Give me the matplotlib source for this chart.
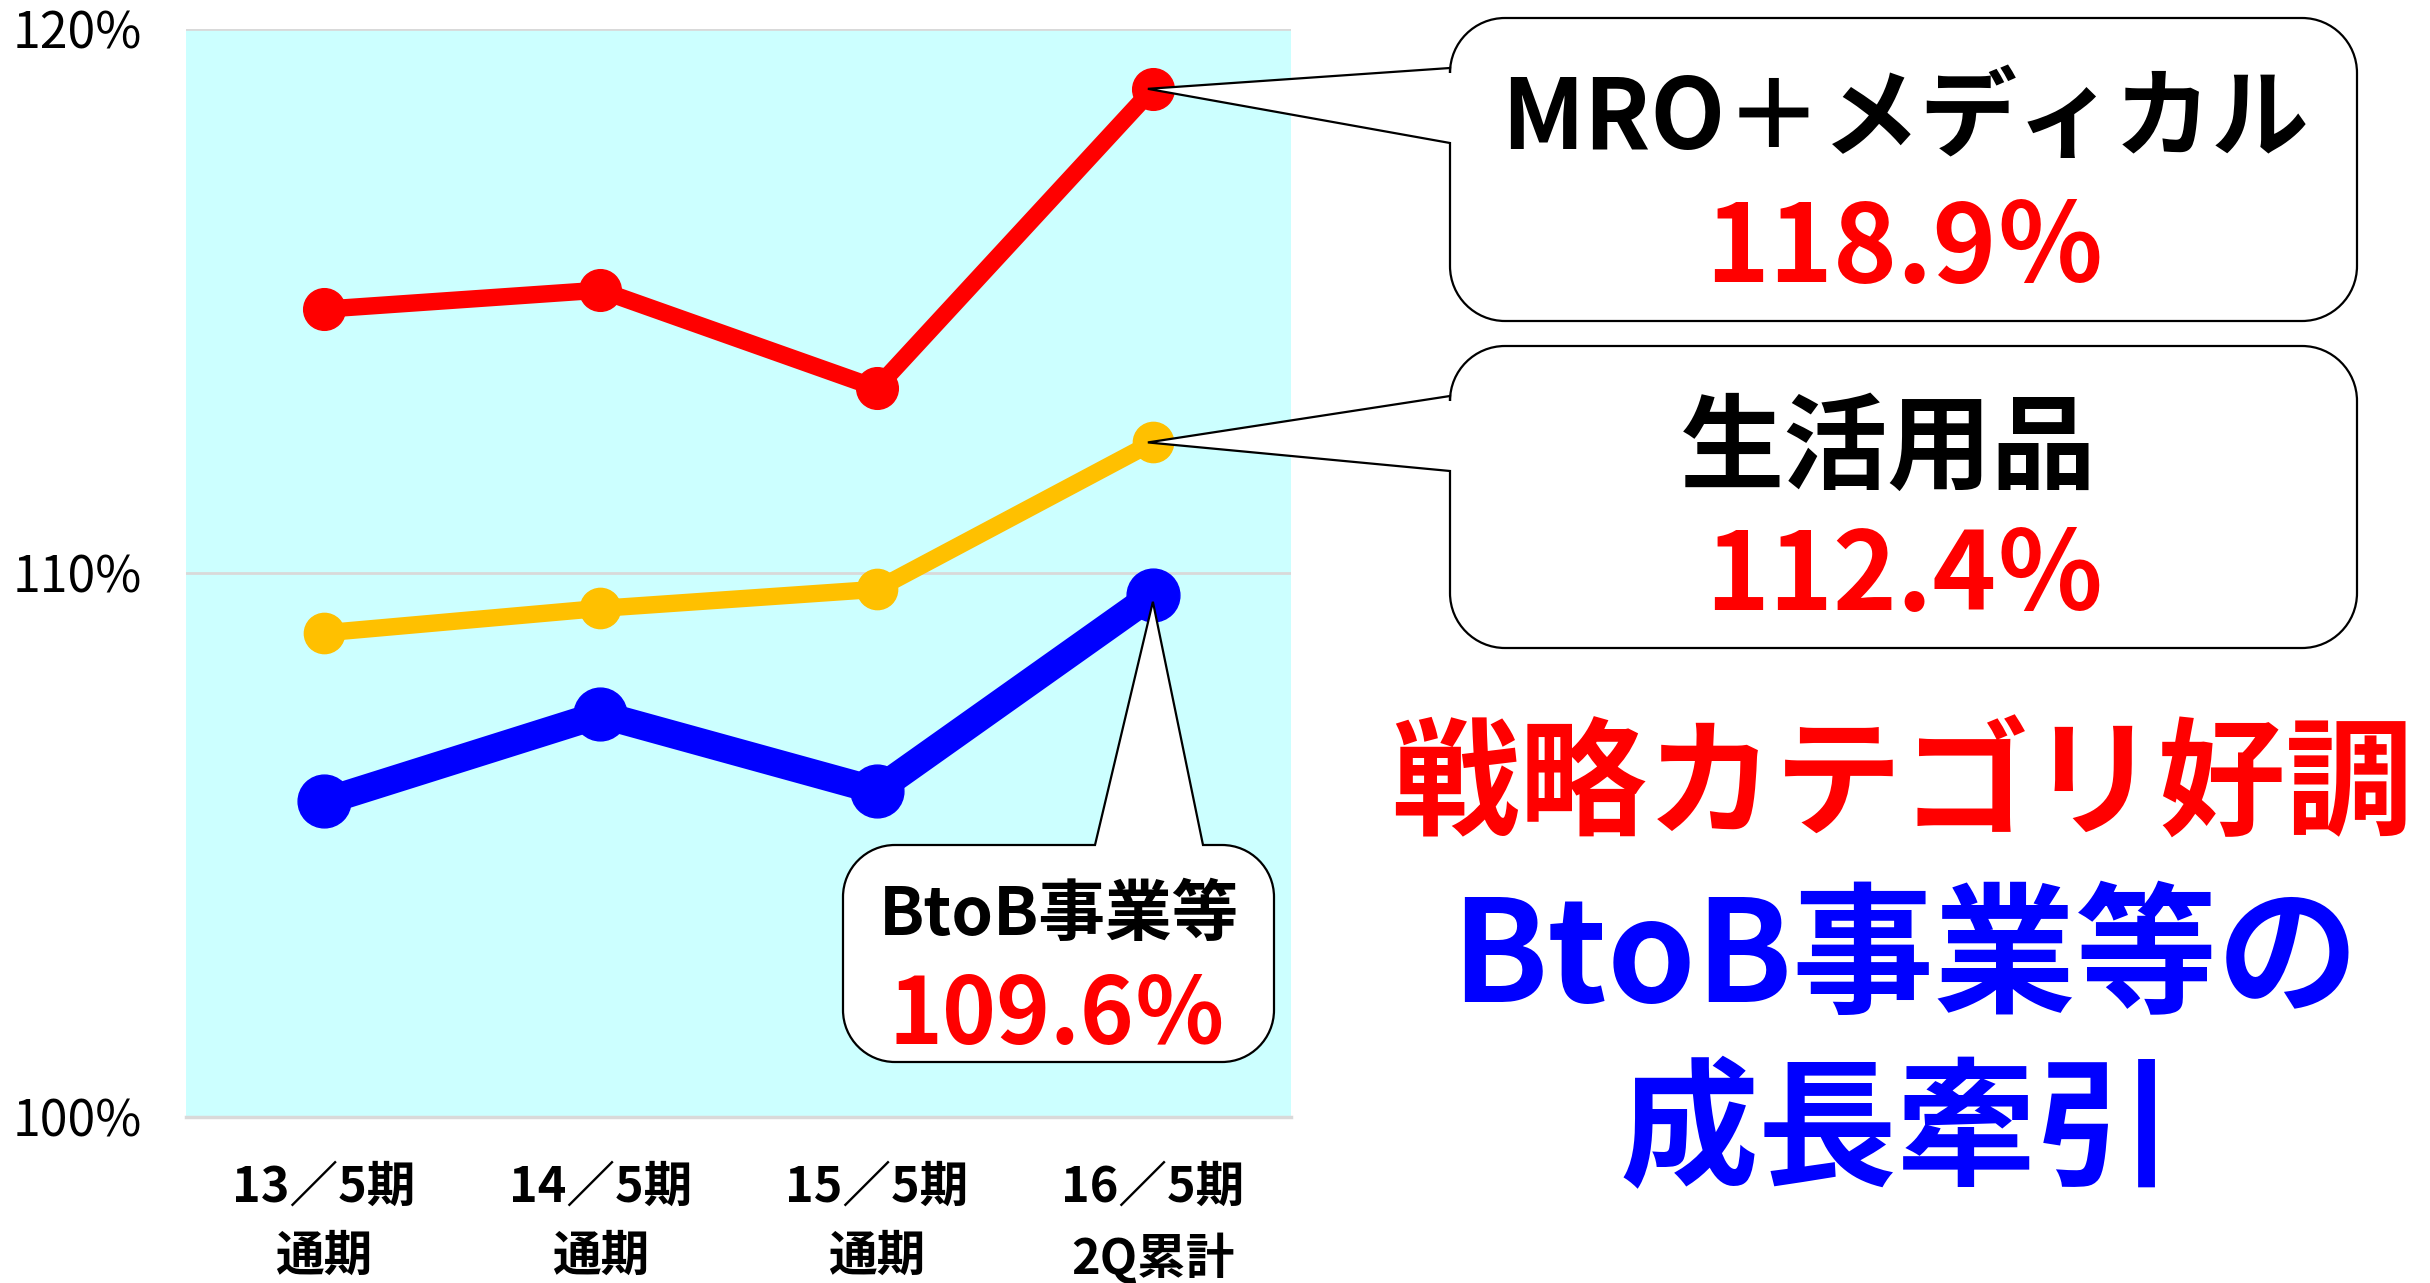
import matplotlib
matplotlib.use("Agg")
import matplotlib.pyplot as plt
from matplotlib.path import Path
from matplotlib.patches import PathPatch

plt.rcParams['font.family'] = ['Noto Sans CJK JP', 'DejaVu Sans']

# data
periods = ['13／5期\n通期', '14／5期\n通期', '15／5期\n通期', '16／5期\n2Q累計']
mro_medical = [114.85, 115.2, 113.4, 118.9]
living_goods = [108.9, 109.35, 109.7, 112.4]
btob = [105.8, 107.4, 106.0, 109.6]
yticks = [100, 110, 120]
ytick_labels = ['100%', '110%', '120%']

W, H = 2430, 1283
fig = plt.figure(figsize=(W / 100, H / 100), dpi=100)
fig.patch.set_facecolor('white')

ax = fig.add_axes([186 / W, 1 - 1117 / H, (1291 - 186) / W, (1117 - 29) / H])
ax.set_facecolor('#CCFFFF')
x = range(len(periods))

ax.plot(x, mro_medical, color='#FF0000', lw=12.5, marker='o', ms=30, zorder=3)
ax.plot(x, living_goods, color='#FFC000', lw=12.5, marker='o', ms=29, zorder=3)
ax.plot(x, btob, color='#0000FF', lw=20, marker='o', ms=38, zorder=3)

ax.set_xlim(-0.5, len(periods) - 0.5)
ax.set_ylim(100, 120)
ax.set_yticks(yticks)
ax.set_yticklabels(ytick_labels, fontsize=36)
ax.set_xticks(list(x))
ax.set_xticklabels(periods, fontsize=35, fontweight='bold', linespacing=1.5)
ax.tick_params(axis='both', length=0)
ax.tick_params(axis='y', pad=32)
ax.tick_params(axis='x', pad=33)
ax.grid(axis='y', color='#D9D9D9', lw=2, zorder=1)
for s in ['top', 'left', 'right']:
    ax.spines[s].set_visible(False)
ax.spines['bottom'].set_color('#D9D9D9')
ax.spines['bottom'].set_linewidth(2.5)

# overlay in pixel coordinates (y down) for the callouts and the big text
ov = fig.add_axes([0, 0, 1, 1], zorder=5)
ov.set_xlim(0, W)
ov.set_ylim(H, 0)
ov.axis('off')
ov.patch.set_alpha(0)


def to_px(xv, yv):
    disp = ax.transData.transform((xv, yv))
    return ov.transData.inverted().transform(disp)


def bubble(x0, y0, x1, y1, r, tip, side, b0, b1):
    k = 0.5523 * r
    v = [(x0 + r, y0)]
    c = [Path.MOVETO]
    if side == 'top':
        v += [(b0, y0), tuple(tip), (b1, y0)]
        c += [Path.LINETO] * 3
    v += [(x1 - r, y0), (x1 - r + k, y0), (x1, y0 + r - k), (x1, y0 + r)]
    c += [Path.LINETO, Path.CURVE4, Path.CURVE4, Path.CURVE4]
    v += [(x1, y1 - r), (x1, y1 - r + k), (x1 - r + k, y1), (x1 - r, y1)]
    c += [Path.LINETO, Path.CURVE4, Path.CURVE4, Path.CURVE4]
    v += [(x0 + r, y1), (x0 + r - k, y1), (x0, y1 - r + k), (x0, y1 - r)]
    c += [Path.LINETO, Path.CURVE4, Path.CURVE4, Path.CURVE4]
    if side == 'left':
        v += [(x0, b1), tuple(tip), (x0, b0)]
        c += [Path.LINETO] * 3
    v += [(x0, y0 + r), (x0, y0 + r - k), (x0 + r - k, y0), (x0 + r, y0)]
    c += [Path.LINETO, Path.CURVE4, Path.CURVE4, Path.CURVE4]
    v.append((x0 + r, y0))
    c.append(Path.CLOSEPOLY)
    ov.add_patch(PathPatch(Path(v, c), facecolor='white', edgecolor='black',
                           lw=1.6, joinstyle='miter'))


def label(xc, yc, s, size, color='black', weight='bold'):
    em = size * 100 / 72
    ov.text(xc, yc + 0.37 * em, s, fontsize=size, color=color, fontweight=weight,
            ha='center', va='baseline')


last = len(periods) - 1
tip_r = to_px(last, mro_medical[-1])
tip_y = to_px(last, living_goods[-1])
tip_b = to_px(last, btob[-1])

bubble(1450, 18, 2357, 321, 55, (tip_r[0] - 5, tip_r[1]), 'left', 68, 143)
bubble(1450, 346, 2357, 648, 55, (tip_y[0] - 5, tip_y[1]), 'left', 396, 471)
bubble(843, 845, 1274, 1062, 52, (tip_b[0], tip_b[1] + 7), 'top', 1095, 1203)

label(1905, 113, 'MRO＋メディカル', 70)
label(1905, 242, f'{mro_medical[-1]:.1f}％', 78, color='#FF0000')
label(1888, 442, '生活用品', 75)
label(1905, 570, f'{living_goods[-1]:.1f}％', 78, color='#FF0000')
label(1059, 910, 'BtoB事業等', 48)
label(1057, 1010, f'{btob[-1]:.1f}％', 66, color='#FF0000')

label(1902, 778, '戦略カテゴリ好調', 92, color='#FF0000')
label(1905, 950, 'BtoB事業等の', 102, color='#0000FF')
label(1897, 1124, '成長牽引', 100, color='#0000FF')

fig.savefig('out.png', dpi=100, facecolor='white')
